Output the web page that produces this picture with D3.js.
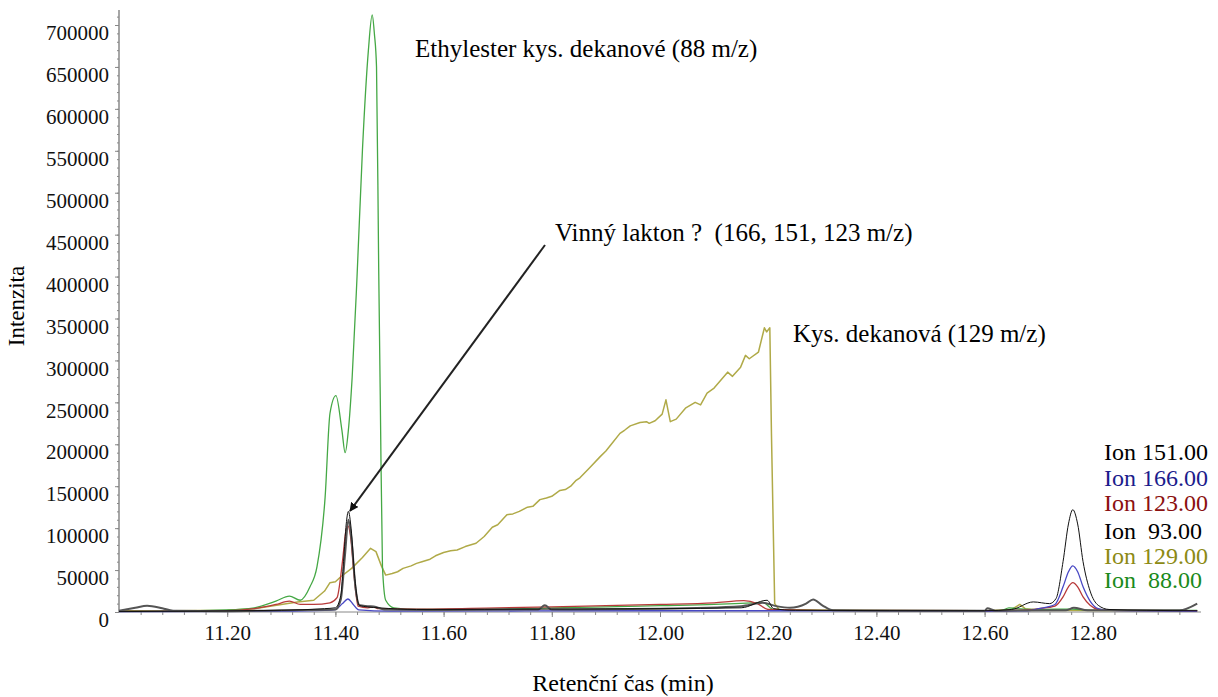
<!DOCTYPE html>
<html>
<head>
    <script src="https://cdnjs.cloudflare.com/ajax/libs/d3/7.8.5/d3.min.js"></script>
    <style>
        body {
            margin: 0;
            background: white;
            font-family: "Liberation Serif", "Times New Roman", serif;
        }
        svg { display: block; }
        .tick text { font-family: "Liberation Serif", serif; fill: #111; }
        .axis path, .axis line { stroke: #888; }
    </style>
</head>
<body>
    <svg id="chart" width="1218" height="697"></svg>

    <script>
        // Retention time (min), intensity
        const ion88 = [
            [11.00, 1500], [11.10, 1500], [11.20, 2500], [11.25, 5000], [11.29, 13000], [11.315, 19000],
            [11.335, 14000], [11.353, 30000], [11.366, 54000], [11.381, 137000], [11.39, 237000],
            [11.401, 258000], [11.412, 217000], [11.418, 190000], [11.424, 217000], [11.431, 280000],
            [11.44, 400000], [11.45, 551000], [11.461, 670000], [11.468, 712000], [11.472, 690000],
            [11.476, 650000], [11.480, 411000], [11.483, 253000], [11.487, 54000], [11.493, 14000],
            [11.508, 5000], [11.55, 3000], [11.70, 3500], [11.80, 5000], [11.90, 6000], [12.00, 7500],
            [12.10, 9000], [12.17, 11000], [12.19, 11500], [12.21, 3000], [12.30, 2000], [12.50, 1500],
            [12.63, 1500], [12.645, 5000], [12.66, 4000], [12.70, 3000], [12.76, 3500], [12.80, 2000],
            [12.993, 2000]
        ];
        const ion129 = [
            [11.00, 1000], [11.20, 2000], [11.25, 4000], [11.30, 9000], [11.33, 12000], [11.36, 14000],
            [11.38, 25000], [11.39, 35000], [11.40, 36000], [11.41, 42000], [11.43, 52000], [11.45, 65000],
            [11.465, 76000], [11.475, 72000], [11.485, 55000], [11.493, 44000], [11.505, 46000],
            [11.515, 48000], [11.525, 52000], [11.54, 55000], [11.55, 58000], [11.56, 60000],
            [11.575, 63000], [11.585, 67000], [11.60, 71000], [11.613, 73000], [11.625, 74000],
            [11.64, 78000], [11.66, 82000], [11.675, 90000], [11.69, 101000], [11.70, 104000],
            [11.717, 116000], [11.728, 117000], [11.74, 120000], [11.755, 125000], [11.765, 126000],
            [11.778, 134000], [11.79, 136000], [11.80, 138000], [11.815, 145000], [11.825, 146000],
            [11.835, 150000], [11.845, 157000], [11.852, 160000], [11.87, 172000], [11.889, 185000],
            [11.90, 192000], [11.91, 200000], [11.926, 213000], [11.935, 217000], [11.945, 222000],
            [11.963, 226000], [11.975, 227000], [11.98, 225000], [11.991, 228000],
            [12.004, 236000], [12.011, 253000], [12.019, 227000], [12.03, 230000], [12.047, 243000],
            [12.065, 250000], [12.075, 247000], [12.087, 261000], [12.10, 267000], [12.125, 286000],
            [12.134, 281000], [12.149, 292000], [12.158, 306000], [12.165, 302000], [12.182, 310000],
            [12.193, 339000], [12.197, 334000], [12.203, 339000], [12.206, 213000], [12.212, 10000],
            [12.22, 3000], [12.30, 2000], [12.60, 1500], [12.65, 3000], [12.665, 9000], [12.675, 4000],
            [12.70, 2000], [12.993, 1500]
        ];
        const ion123 = [
            [11.00, 1000], [11.20, 1500], [11.25, 4000], [11.29, 9000], [11.315, 13000], [11.335, 9000],
            [11.36, 9000], [11.39, 11000], [11.403, 17000], [11.413, 60000], [11.419, 95000],
            [11.423, 103000], [11.428, 90000], [11.435, 40000], [11.442, 7000], [11.46, 5000],
            [11.47, 6000], [11.48, 4000], [11.55, 3500], [11.70, 5000], [11.80, 6000], [11.90, 7500],
            [12.00, 9000], [12.10, 11000], [12.155, 13500], [12.18, 10000], [12.20, 3000], [12.30, 2000],
            [12.60, 1500], [12.68, 2500], [12.70, 4000], [12.73, 7000], [12.745, 18000], [12.755, 30000],
            [12.763, 35000], [12.772, 30000], [12.782, 18000], [12.795, 8000], [12.81, 3000],
            [12.83, 2000], [12.993, 1500]
        ];
        const ion166 = [
            [11.00, 500], [11.30, 1000], [11.38, 2000], [11.40, 3000], [11.413, 10000], [11.423, 15500],
            [11.433, 9000], [11.443, 2500], [11.50, 1000], [12.00, 1500], [12.20, 1500], [12.60, 1000],
            [12.68, 1500], [12.70, 4000], [12.73, 9000], [12.745, 30000], [12.755, 48000],
            [12.763, 55000], [12.772, 48000], [12.782, 30000], [12.795, 13000], [12.81, 4000],
            [12.83, 2000], [12.993, 1000]
        ];
        const ion151 = [
            [11.00, 500], [11.30, 2000], [11.38, 4000], [11.40, 5000], [11.41, 20000], [11.415, 60000],
            [11.42, 105000], [11.424, 120000], [11.429, 100000], [11.436, 40000], [11.444, 8000],
            [11.46, 6000], [11.48, 5000], [11.55, 3000], [11.80, 3500], [12.00, 4000], [12.15, 5000],
            [12.198, 14000], [12.21, 4000], [12.25, 2000], [12.60, 1500], [12.65, 3000], [12.69, 12000],
            [12.72, 10000], [12.732, 16000], [12.745, 60000], [12.755, 105000], [12.763, 122000],
            [12.772, 105000], [12.782, 60000], [12.795, 25000], [12.81, 8000], [12.83, 3000],
            [12.90, 2000], [12.993, 1500]
        ];
        const ion93 = [
            [11.00, 1500], [11.03, 5000], [11.052, 7500], [11.08, 4500], [11.10, 1500], [11.20, 1000],
            [11.30, 2000], [11.40, 3000], [11.41, 15000], [11.418, 70000], [11.424, 110000],
            [11.43, 85000], [11.437, 30000], [11.445, 8000], [11.46, 7000], [11.475, 6000], [11.49, 3000],
            [11.60, 2500], [11.775, 3000], [11.787, 8000], [11.80, 3000], [12.00, 4000], [12.15, 7000],
            [12.19, 11000], [12.215, 7000], [12.24, 5000], [12.27, 10000], [12.283, 15000], [12.30, 8000],
            [12.32, 2000], [12.60, 1500], [12.605, 4500], [12.62, 1500], [12.75, 2000], [12.765, 5000],
            [12.79, 2000], [12.96, 2000], [12.993, 10000]
        ];

        const series = [
            { name: "Ion 129.00", data: ion129, color: "#b0aa48", width: 1.5, curve: d3.curveLinear },
            { name: "Ion 88.00", data: ion88, color: "#45a845", width: 1.3, curve: d3.curveMonotoneX },
            { name: "Ion 123.00", data: ion123, color: "#b83a3a", width: 1.3, curve: d3.curveMonotoneX },
            { name: "Ion 166.00", data: ion166, color: "#4848c4", width: 1.3, curve: d3.curveMonotoneX },
            { name: "Ion 93.00", data: ion93, color: "#555555", width: 2, curve: d3.curveMonotoneX },
            { name: "Ion 151.00", data: ion151, color: "#111111", width: 1, curve: d3.curveMonotoneX }
        ];

        const legendLabels = ["Ion 151.00", "Ion 166.00", "Ion 123.00", "Ion  93.00", "Ion 129.00", "Ion  88.00"];
        const legendColors = ["#000000", "#1c1c8c", "#8b1010", "#000000", "#8c8a14", "#1a8a1a"];

        const yTicks = d3.range(0, 700001, 50000);
        const xTicks = [11.2, 11.4, 11.6, 11.8, 12.0, 12.2, 12.4, 12.6, 12.8];

        const svg = d3.select("#chart");
        const x = d3.scaleLinear().domain([11.0, 13.0]).range([119, 1201]);
        const y = d3.scaleLinear().domain([0, 700000]).range([612, 25]);

        // minor ticks
        svg.append("g")
            .attr("class", "axis")
            .attr("transform", "translate(119,0)")
            .call(d3.axisLeft(y).tickValues(d3.range(0, 718001, 10000)).tickSize(2).tickFormat(""))
            .call(g => g.select(".domain").remove());
        svg.append("g")
            .attr("class", "axis")
            .attr("transform", "translate(0,612)")
            .call(d3.axisBottom(x).tickValues(d3.range(11.04, 12.99, 0.04)).tickSize(3).tickFormat(""))
            .call(g => g.select(".domain").remove());

        // Y axis
        svg.append("g")
            .attr("class", "axis")
            .attr("transform", "translate(119,0)")
            .call(d3.axisLeft(y).tickValues(yTicks).tickSize(4).tickPadding(6).tickFormat(d3.format("d")))
            .call(g => g.selectAll(".tick text").attr("font-size", 21).attr("dy", "0.7em"))
            .call(g => g.select(".domain").attr("d", "M0,10V612").attr("stroke-width", 1.5));

        // X axis
        svg.append("g")
            .attr("class", "axis")
            .attr("transform", "translate(0,612)")
            .call(d3.axisBottom(x).tickValues(xTicks).tickSize(5).tickPadding(8).tickFormat(d3.format(".2f")))
            .call(g => g.selectAll(".tick text").attr("font-size", 21))
            .call(g => g.select(".domain").attr("d", "M119,0H1201"));

        series.forEach(s => {
            const line = d3.line()
                .x(d => x(d[0]))
                .y(d => y(d[1]))
                .curve(s.curve);
            svg.append("path")
                .datum(s.data)
                .attr("fill", "none")
                .attr("stroke", s.color)
                .attr("stroke-width", s.width)
                .attr("stroke-linejoin", "round")
                .attr("d", line);
        });

        // axis titles
        svg.append("text")
            .attr("transform", "translate(24,306) rotate(-90)")
            .attr("text-anchor", "middle")
            .attr("font-size", 23)
            .text("Intenzita");
        svg.append("text")
            .attr("x", 623)
            .attr("y", 691)
            .attr("text-anchor", "middle")
            .attr("font-size", 24)
            .text("Retenční čas (min)");

        // annotations
        svg.append("text").attr("x", 415).attr("y", 57).attr("font-size", 25)
            .text("Ethylester kys. dekanové (88 m/z)");
        svg.append("text").attr("x", 555).attr("y", 241).attr("font-size", 25)
            .style("white-space", "pre")
            .text("Vinný lakton ?  (166, 151, 123 m/z)");
        svg.append("text").attr("x", 793).attr("y", 342).attr("font-size", 25)
            .text("Kys. dekanová (129 m/z)");

        svg.append("defs").append("marker")
            .attr("id", "arrow")
            .attr("viewBox", "0 0 10 10")
            .attr("refX", 9).attr("refY", 5)
            .attr("markerWidth", 9).attr("markerHeight", 9)
            .attr("markerUnits", "userSpaceOnUse")
            .attr("orient", "auto")
            .append("path")
            .attr("d", "M0,0L10,5L0,10z")
            .attr("fill", "#111");
        svg.append("line")
            .attr("x1", 545).attr("y1", 245)
            .attr("x2", 350).attr("y2", 511)
            .attr("stroke", "#222")
            .attr("stroke-width", 2)
            .attr("marker-end", "url(#arrow)");

        // legend
        svg.append("g")
            .selectAll("text")
            .data(legendLabels)
            .join("text")
            .attr("x", 1104)
            .attr("y", (d, i) => [460, 486, 511, 539, 564, 588][i])
            .attr("font-size", 24)
            .attr("fill", (d, i) => legendColors[i])
            .style("white-space", "pre")
            .text(d => d);
    </script>
</body>
</html>
